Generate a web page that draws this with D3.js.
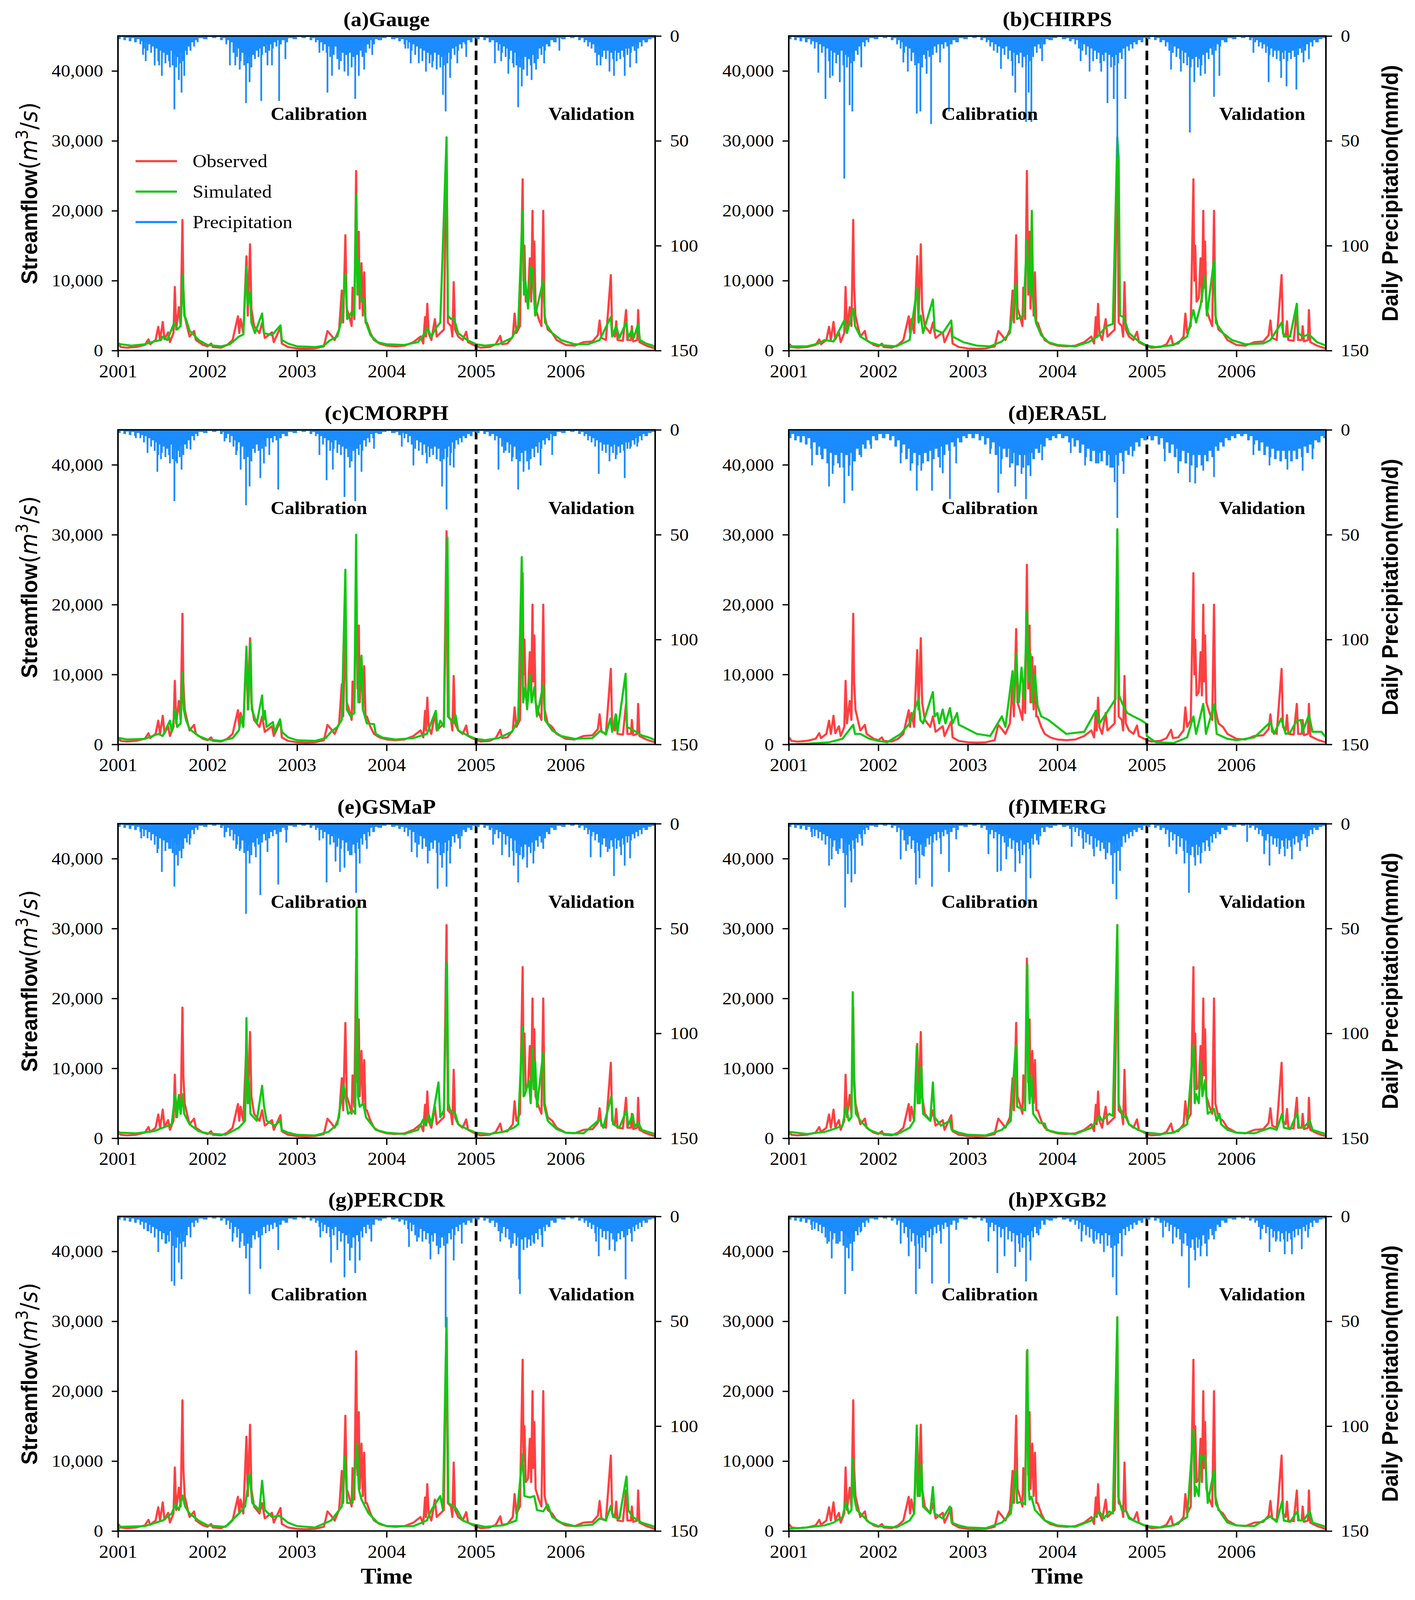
<!DOCTYPE html>
<html><head><meta charset="utf-8">
<script src="https://cdn.jsdelivr.net/npm/d3@7"></script>
<style>html,body{margin:0;padding:0;background:#fff;overflow:hidden;width:100%;height:100%}
#chart{display:block;width:100vw;height:100vh}</style>
</head><body>
<svg id="chart" viewBox="0 0 3622 4359" preserveAspectRatio="none"></svg>
<script>
// ---------------- DATA ----------------
const yearTicks = [2001, 2002, 2003, 2004, 2005, 2006];
const flowTicks = [0, 10000, 20000, 30000, 40000];
const precipTicks = [0, 50, 100, 150];
const panelTitles = ["(a)Gauge","(b)CHIRPS","(c)CMORPH","(d)ERA5L","(e)GSMaP","(f)IMERG","(g)PERCDR","(h)PXGB2"];
const legendLabels = ["Observed","Simulated","Precipitation"];
const periodLabels = [["Calibration",2003.244],["Validation",2006.289]];
const splitYear = 2005;

// Observed streamflow (m3/s) [decimal year, value]
const observed = [[2001.0,700],[2001.01,900],[2001.03,500],[2001.1,400],[2001.2,500],[2001.3,800],[2001.34,1600],[2001.36,900],[2001.42,1500],[2001.45,3400],[2001.47,1500],[2001.5,4100],[2001.52,1600],[2001.56,2600],[2001.58,1200],[2001.62,2500],[2001.635,9100],[2001.65,3000],[2001.68,6200],[2001.7,3500],[2001.72,18700],[2001.73,9000],[2001.745,5000],[2001.78,3000],[2001.8,2000],[2001.85,2800],[2001.87,1500],[2001.95,800],[2002.0,600],[2002.04,1000],[2002.06,500],[2002.15,400],[2002.22,800],[2002.28,1500],[2002.34,4900],[2002.355,2500],[2002.37,4500],[2002.4,2500],[2002.435,13500],[2002.45,5000],[2002.475,15200],[2002.49,6000],[2002.52,3500],[2002.58,2500],[2002.61,4000],[2002.64,1800],[2002.72,2600],[2002.74,1200],[2002.815,3300],[2002.83,1000],[2002.9,500],[2003.0,300],[2003.1,250],[2003.2,300],[2003.3,600],[2003.34,2800],[2003.38,2200],[2003.42,1500],[2003.47,3000],[2003.5,8600],[2003.515,4000],[2003.54,16500],[2003.555,6000],[2003.58,5000],[2003.61,3500],[2003.62,9000],[2003.64,4500],[2003.66,25700],[2003.675,8000],[2003.69,17000],[2003.7,6000],[2003.72,12500],[2003.735,5000],[2003.75,11200],[2003.765,4000],[2003.78,4000],[2003.82,2500],[2003.86,1500],[2003.92,1000],[2004.0,700],[2004.1,600],[2004.2,700],[2004.3,1200],[2004.38,2000],[2004.41,1000],[2004.43,4800],[2004.44,2000],[2004.455,6700],[2004.47,2500],[2004.5,1500],[2004.54,4500],[2004.56,2000],[2004.6,2500],[2004.64,3000],[2004.67,30500],[2004.685,4000],[2004.72,3500],[2004.735,2000],[2004.75,9800],[2004.765,3000],[2004.8,2000],[2004.85,1500],[2004.89,2700],[2004.91,1200],[2004.97,800],[2005.05,400],[2005.15,500],[2005.22,900],[2005.27,2100],[2005.29,900],[2005.35,1000],[2005.41,2000],[2005.43,5300],[2005.45,2500],[2005.49,3500],[2005.52,24500],[2005.53,10000],[2005.54,15000],[2005.555,7000],[2005.58,7500],[2005.6,13200],[2005.615,7000],[2005.63,20000],[2005.64,9000],[2005.65,15600],[2005.665,6000],[2005.7,4500],[2005.73,3500],[2005.75,20000],[2005.765,5000],[2005.8,3000],[2005.85,2500],[2005.9,1500],[2006.0,800],[2006.1,700],[2006.2,1200],[2006.3,1300],[2006.36,2200],[2006.38,4300],[2006.4,1800],[2006.45,1500],[2006.505,10800],[2006.52,2500],[2006.55,2000],[2006.565,4200],[2006.58,1500],[2006.64,1400],[2006.675,5800],[2006.69,1500],[2006.73,1500],[2006.74,3500],[2006.755,1300],[2006.8,1500],[2006.81,5800],[2006.825,1200],[2006.9,700],[2006.97,400],[2007.0,300]];

// Simulated streamflow per product
const simGauge = [[2001.0,600],[2001.01,1000],[2001.03,900],[2001.15,700],[2001.3,900],[2001.4,1300],[2001.48,1500],[2001.5,2000],[2001.55,1500],[2001.63,4000],[2001.66,3000],[2001.7,3500],[2001.725,10800],[2001.74,5000],[2001.76,4500],[2001.8,2800],[2001.85,2200],[2001.9,1500],[2002.0,800],[2002.15,600],[2002.25,900],[2002.35,2000],[2002.4,2300],[2002.435,12000],[2002.45,6500],[2002.475,8300],[2002.49,4000],[2002.53,2500],[2002.61,5300],[2002.63,2500],[2002.72,2200],[2002.815,3600],[2002.83,1500],[2002.9,1000],[2003.0,600],[2003.2,500],[2003.3,700],[2003.36,1400],[2003.45,2000],[2003.5,4500],[2003.54,11000],[2003.56,4500],[2003.61,5500],[2003.64,5000],[2003.66,22300],[2003.675,8000],[2003.69,13000],[2003.72,7000],[2003.74,7500],[2003.77,4000],[2003.82,2200],[2003.9,1200],[2004.0,900],[2004.2,800],[2004.35,1200],[2004.43,2500],[2004.455,3200],[2004.5,2000],[2004.55,3200],[2004.6,4000],[2004.67,30500],[2004.685,5000],[2004.72,4500],[2004.75,4700],[2004.8,2500],[2004.9,1500],[2005.0,900],[2005.1,700],[2005.25,900],[2005.4,1800],[2005.47,3500],[2005.52,20000],[2005.535,8000],[2005.55,10000],[2005.58,6000],[2005.61,12000],[2005.63,11500],[2005.66,5000],[2005.75,10000],[2005.77,4000],[2005.85,2500],[2005.95,1500],[2006.1,900],[2006.25,900],[2006.38,1500],[2006.505,4800],[2006.52,2000],[2006.565,3500],[2006.6,1800],[2006.675,4000],[2006.7,1800],[2006.74,3000],[2006.76,1800],[2006.81,3800],[2006.83,1500],[2006.9,1000],[2007.0,600]];
const simCHIRPS = [[2001.0,300],[2001.02,600],[2001.2,600],[2001.33,1000],[2001.4,1500],[2001.5,1300],[2001.62,4300],[2001.65,2500],[2001.72,6000],[2001.74,3500],[2001.8,2000],[2001.9,1200],[2002.0,800],[2002.2,600],[2002.35,1500],[2002.435,9000],[2002.45,4000],[2002.475,5000],[2002.5,2500],[2002.61,7300],[2002.63,3000],[2002.72,2500],[2002.815,4300],[2002.83,2000],[2002.95,1200],[2003.1,700],[2003.25,600],[2003.38,1300],[2003.47,2500],[2003.535,9500],[2003.55,4500],[2003.62,5000],[2003.66,15800],[2003.675,10000],[2003.7,8000],[2003.715,20000],[2003.73,7000],[2003.76,4000],[2003.82,2200],[2003.9,1200],[2004.0,800],[2004.2,600],[2004.35,1200],[2004.45,2000],[2004.55,3500],[2004.62,3800],[2004.67,30500],[2004.685,27500],[2004.7,5000],[2004.74,4800],[2004.8,2500],[2004.9,1400],[2005.0,700],[2005.1,500],[2005.3,800],[2005.45,2000],[2005.52,5800],[2005.55,4000],[2005.6,6500],[2005.65,10700],[2005.67,5000],[2005.75,12900],[2005.77,4000],[2005.85,2500],[2005.95,1500],[2006.1,900],[2006.3,1000],[2006.38,1500],[2006.505,4000],[2006.53,2000],[2006.6,2000],[2006.675,6700],[2006.69,2500],[2006.74,2000],[2006.81,2300],[2006.9,1200],[2007.0,700]];
const simCMORPH = [[2001.0,500],[2001.02,900],[2001.1,700],[2001.3,800],[2001.45,1500],[2001.5,1200],[2001.58,3400],[2001.6,1800],[2001.64,5000],[2001.66,2500],[2001.7,3000],[2001.72,10300],[2001.735,5000],[2001.76,3500],[2001.8,2200],[2001.9,1200],[2002.0,700],[2002.15,500],[2002.28,900],[2002.35,2000],[2002.38,4000],[2002.4,2500],[2002.435,14000],[2002.455,5000],[2002.48,14600],[2002.495,5000],[2002.55,3000],[2002.61,7000],[2002.625,3500],[2002.64,4800],[2002.66,2500],[2002.73,3200],[2002.75,1800],[2002.81,3600],[2002.83,1800],[2002.9,1000],[2003.0,600],[2003.2,500],[2003.32,900],[2003.38,1800],[2003.45,2500],[2003.5,3500],[2003.54,25000],[2003.555,5000],[2003.6,4000],[2003.64,4500],[2003.66,30000],[2003.67,14000],[2003.685,6000],[2003.72,12700],[2003.735,5000],[2003.78,3000],[2003.86,2900],[2003.88,1500],[2003.95,1000],[2004.1,700],[2004.3,900],[2004.45,1500],[2004.55,4800],[2004.57,2000],[2004.6,3400],[2004.64,2500],[2004.68,29600],[2004.695,4000],[2004.74,3000],[2004.77,4200],[2004.8,2000],[2004.9,1300],[2005.0,800],[2005.1,600],[2005.25,900],[2005.4,1800],[2005.47,3500],[2005.51,26800],[2005.525,6000],[2005.55,8200],[2005.57,5000],[2005.6,10000],[2005.62,6000],[2005.65,8200],[2005.68,4000],[2005.75,8500],[2005.77,3500],[2005.85,2000],[2005.95,1200],[2006.1,800],[2006.3,900],[2006.39,2000],[2006.45,1400],[2006.5,3700],[2006.52,1800],[2006.56,4300],[2006.58,1800],[2006.67,10100],[2006.685,2500],[2006.76,2000],[2006.85,1300],[2006.95,900],[2007.0,600]];
const simERA5L = [[2001.0,0],[2001.2,100],[2001.45,300],[2001.6,800],[2001.72,2800],[2001.74,1500],[2001.8,1500],[2001.9,800],[2002.0,500],[2002.1,300],[2002.25,1500],[2002.35,3000],[2002.45,6500],[2002.47,3500],[2002.5,3000],[2002.61,7500],[2002.63,4000],[2002.66,4500],[2002.68,3000],[2002.72,5000],[2002.75,3000],[2002.8,5200],[2002.83,3000],[2002.88,4500],[2002.9,2800],[2002.95,2500],[2003.1,1500],[2003.25,1200],[2003.38,4000],[2003.42,2500],[2003.5,10500],[2003.52,6000],[2003.54,13000],[2003.57,6000],[2003.6,11000],[2003.63,6500],[2003.66,19000],[2003.68,9000],[2003.7,13000],[2003.72,6000],[2003.75,10000],[2003.78,5500],[2003.82,4000],[2003.9,3500],[2004.0,2500],[2004.1,1500],[2004.3,1800],[2004.43,4800],[2004.47,3000],[2004.55,4500],[2004.6,5500],[2004.65,6500],[2004.67,30800],[2004.69,7000],[2004.72,6000],[2004.78,4500],[2004.85,4000],[2004.93,3500],[2004.99,3000],[2005.0,1200],[2005.1,300],[2005.3,200],[2005.45,1000],[2005.52,4000],[2005.55,1500],[2005.63,5800],[2005.66,1500],[2005.75,5700],[2005.78,1500],[2005.9,800],[2006.0,600],[2006.2,1000],[2006.38,3200],[2006.42,1500],[2006.5,3700],[2006.55,1500],[2006.6,1700],[2006.67,3300],[2006.72,3500],[2006.74,1800],[2006.81,4200],[2006.85,1800],[2006.95,1800],[2007.0,1000]];
const simGSMaP = [[2001.0,500],[2001.02,800],[2001.2,700],[2001.4,1000],[2001.5,1500],[2001.6,2000],[2001.64,6300],[2001.66,3000],[2001.68,6100],[2001.7,3500],[2001.72,6300],[2001.74,3500],[2001.8,2000],[2001.9,1000],[2002.0,700],[2002.2,500],[2002.35,1500],[2002.42,2500],[2002.435,17200],[2002.45,5000],[2002.46,8300],[2002.48,3500],[2002.55,2500],[2002.61,7500],[2002.63,4700],[2002.66,2500],[2002.75,1800],[2002.81,2500],[2002.83,1200],[2002.9,800],[2003.0,500],[2003.2,400],[2003.35,900],[2003.45,2000],[2003.52,7600],[2003.54,6000],[2003.57,3500],[2003.62,4000],[2003.65,3500],[2003.665,33000],[2003.68,6000],[2003.7,4500],[2003.74,5000],[2003.77,3000],[2003.8,2500],[2003.88,1200],[2004.0,800],[2004.2,600],[2004.35,1200],[2004.41,2700],[2004.44,1800],[2004.47,3400],[2004.5,2000],[2004.58,8000],[2004.6,3000],[2004.64,4000],[2004.675,25100],[2004.69,5000],[2004.71,4000],[2004.77,3400],[2004.8,2000],[2004.9,1300],[2005.0,800],[2005.15,600],[2005.3,900],[2005.42,1500],[2005.47,2000],[2005.52,16000],[2005.53,6000],[2005.54,6100],[2005.59,8200],[2005.61,5000],[2005.63,12800],[2005.645,7000],[2005.66,11000],[2005.68,4500],[2005.75,12300],[2005.76,4700],[2005.8,2500],[2005.9,1300],[2006.0,800],[2006.2,700],[2006.38,2700],[2006.42,1500],[2006.51,6000],[2006.53,2000],[2006.6,1500],[2006.68,4000],[2006.7,1800],[2006.75,3400],[2006.77,1600],[2006.81,2300],[2006.85,1200],[2006.95,800],[2007.0,600]];
const simIMERG = [[2001.0,500],[2001.02,900],[2001.2,600],[2001.4,900],[2001.5,1300],[2001.6,1800],[2001.64,4500],[2001.67,2500],[2001.7,3000],[2001.715,20900],[2001.73,7600],[2001.75,3500],[2001.8,2500],[2001.9,1200],[2002.0,700],[2002.2,500],[2002.35,1500],[2002.4,2500],[2002.43,13200],[2002.44,5000],[2002.45,7600],[2002.465,5000],[2002.48,10300],[2002.5,3500],[2002.58,2500],[2002.61,8000],[2002.63,3000],[2002.7,1800],[2002.8,2500],[2002.82,1200],[2002.9,800],[2003.0,500],[2003.2,400],[2003.38,1200],[2003.48,2500],[2003.535,13300],[2003.55,4500],[2003.6,4200],[2003.64,4000],[2003.665,24900],[2003.68,7600],[2003.69,5000],[2003.71,9000],[2003.73,3500],[2003.8,2200],[2003.86,2100],[2003.88,1200],[2004.0,800],[2004.2,600],[2004.38,1500],[2004.47,3200],[2004.5,2500],[2004.58,3500],[2004.62,3200],[2004.67,30500],[2004.685,5000],[2004.7,4300],[2004.74,3000],[2004.77,3200],[2004.8,2000],[2004.9,1200],[2005.0,800],[2005.15,600],[2005.3,800],[2005.45,2000],[2005.52,13300],[2005.535,5000],[2005.55,6300],[2005.58,5000],[2005.6,11000],[2005.62,6000],[2005.65,8300],[2005.68,3500],[2005.75,4200],[2005.78,2500],[2005.81,3500],[2005.83,2000],[2005.9,1200],[2006.0,800],[2006.2,700],[2006.38,1500],[2006.45,1200],[2006.51,3500],[2006.53,1500],[2006.6,1300],[2006.68,3600],[2006.7,1600],[2006.75,1500],[2006.82,2500],[2006.85,1200],[2006.95,800],[2007.0,600]];
const simPERCDR = [[2001.0,0],[2001.02,600],[2001.3,700],[2001.5,1500],[2001.6,2500],[2001.64,3800],[2001.68,3000],[2001.72,5100],[2001.75,3500],[2001.8,2500],[2001.9,1500],[2002.0,800],[2002.2,600],[2002.35,2500],[2002.42,3500],[2002.47,8200],[2002.5,4000],[2002.58,3000],[2002.61,7200],[2002.64,3000],[2002.72,2000],[2002.8,2200],[2002.9,1200],[2003.0,700],[2003.2,500],[2003.38,1500],[2003.5,3500],[2003.535,10700],[2003.56,4000],[2003.62,4000],[2003.67,12500],[2003.69,6000],[2003.72,4500],[2003.8,2500],[2003.9,1200],[2004.0,700],[2004.3,700],[2004.45,1500],[2004.5,3000],[2004.6,5000],[2004.63,3000],[2004.67,30500],[2004.69,4000],[2004.78,3200],[2004.85,1500],[2004.95,1000],[2005.1,600],[2005.3,800],[2005.45,1500],[2005.52,11000],[2005.54,5000],[2005.6,4800],[2005.65,5000],[2005.68,3000],[2005.75,2800],[2005.8,3800],[2005.85,2000],[2005.95,1200],[2006.1,700],[2006.3,900],[2006.38,1800],[2006.45,1500],[2006.505,3600],[2006.53,2000],[2006.6,1800],[2006.68,7800],[2006.7,3000],[2006.75,2000],[2006.85,1200],[2007.0,600]];
const simPXGB2 = [[2001.0,300],[2001.2,500],[2001.4,800],[2001.5,1200],[2001.6,2000],[2001.64,4200],[2001.67,2500],[2001.7,3000],[2001.715,10400],[2001.73,4900],[2001.76,3000],[2001.8,2500],[2001.9,1200],[2002.0,700],[2002.2,500],[2002.35,1500],[2002.4,2500],[2002.43,15100],[2002.44,5000],[2002.45,7700],[2002.465,5000],[2002.48,9500],[2002.5,3500],[2002.58,2500],[2002.61,6300],[2002.63,2500],[2002.72,1800],[2002.8,3500],[2002.82,1200],[2002.9,800],[2003.0,500],[2003.2,400],[2003.38,1200],[2003.48,2500],[2003.535,8800],[2003.55,4000],[2003.6,4200],[2003.64,3800],[2003.665,25900],[2003.68,6300],[2003.69,4500],[2003.71,4900],[2003.75,3000],[2003.86,1500],[2004.0,800],[2004.2,600],[2004.38,1500],[2004.47,2800],[2004.52,1800],[2004.58,2800],[2004.62,2500],[2004.67,30600],[2004.68,4900],[2004.72,3000],[2004.77,2800],[2004.8,1800],[2004.9,1200],[2005.0,700],[2005.15,500],[2005.3,800],[2005.45,2000],[2005.52,14500],[2005.535,5000],[2005.55,6300],[2005.58,5000],[2005.6,10800],[2005.62,10400],[2005.65,10800],[2005.68,4000],[2005.75,8700],[2005.77,3900],[2005.83,2500],[2005.9,1200],[2006.0,800],[2006.2,700],[2006.38,2100],[2006.45,1300],[2006.51,4200],[2006.53,1500],[2006.6,1300],[2006.68,2800],[2006.7,1500],[2006.75,1500],[2006.82,2800],[2006.85,1200],[2006.95,800],[2007.0,600]];

// Daily precipitation (mm/d): dense wet-season background and individual peak days
const precipBase = [[2001.0,1.5],[2001.03,0.5],[2001.06,2],[2001.09,0.8],[2001.12,2.5],[2001.15,1],[2001.18,3],[2001.21,1.5],[2001.24,4],[2001.26,2.5],[2001.28,6],[2001.3,3],[2001.32,7],[2001.34,4],[2001.36,8],[2001.38,5],[2001.4,10],[2001.42,6],[2001.44,12],[2001.46,7],[2001.48,11],[2001.5,8],[2001.52,13],[2001.54,9],[2001.56,12],[2001.58,7],[2001.6,14],[2001.62,9],[2001.64,15],[2001.66,10],[2001.68,13],[2001.7,8],[2001.72,12],[2001.74,7],[2001.76,9],[2001.78,5],[2001.8,7],[2001.82,3],[2001.84,5],[2001.86,2],[2001.88,3],[2001.9,1],[2001.95,1.5],[2002.0,0.5],[2002.05,1],[2002.1,0.5],[2002.14,2],[2002.17,1],[2002.2,4],[2002.22,2],[2002.24,6],[2002.26,3],[2002.28,8],[2002.3,5],[2002.32,10],[2002.34,6],[2002.36,12],[2002.38,8],[2002.4,14],[2002.42,9],[2002.44,13],[2002.46,10],[2002.48,15],[2002.5,9],[2002.52,11],[2002.54,7],[2002.56,10],[2002.58,6],[2002.6,9],[2002.62,5],[2002.64,8],[2002.66,4],[2002.68,7],[2002.7,4],[2002.72,6],[2002.74,3],[2002.76,5],[2002.78,2],[2002.8,4],[2002.83,2],[2002.86,3],[2002.9,1],[2002.95,1.5],[2003.0,0.5],[2003.05,1],[2003.1,0.5],[2003.14,2],[2003.17,1],[2003.2,3],[2003.22,2],[2003.24,5],[2003.26,3],[2003.28,7],[2003.3,4],[2003.32,8],[2003.34,5],[2003.36,10],[2003.38,6],[2003.4,9],[2003.42,5],[2003.44,11],[2003.46,7],[2003.48,12],[2003.5,8],[2003.52,14],[2003.54,9],[2003.56,13],[2003.58,8],[2003.6,15],[2003.62,10],[2003.64,14],[2003.66,9],[2003.68,12],[2003.7,7],[2003.72,10],[2003.74,5],[2003.76,8],[2003.78,4],[2003.8,6],[2003.82,2],[2003.84,4],[2003.87,1.5],[2003.9,2],[2003.95,1],[2004.0,0.5],[2004.05,1.5],[2004.1,1],[2004.13,2.5],[2004.16,1.5],[2004.19,4],[2004.21,2],[2004.23,6],[2004.25,3],[2004.27,7],[2004.29,4],[2004.31,9],[2004.33,5],[2004.35,10],[2004.37,6],[2004.39,12],[2004.41,7],[2004.43,11],[2004.45,8],[2004.47,13],[2004.49,9],[2004.51,12],[2004.53,8],[2004.55,14],[2004.57,9],[2004.59,15],[2004.61,10],[2004.63,14],[2004.65,9],[2004.67,13],[2004.69,8],[2004.71,11],[2004.73,6],[2004.75,9],[2004.77,5],[2004.79,7],[2004.81,4],[2004.83,6],[2004.85,3],[2004.87,4],[2004.9,2],[2004.93,3],[2004.96,1],[2005.0,1.5],[2005.04,0.5],[2005.08,2],[2005.11,1],[2005.14,3],[2005.17,2],[2005.2,5],[2005.22,3],[2005.24,7],[2005.26,4],[2005.28,8],[2005.3,5],[2005.32,10],[2005.34,6],[2005.36,11],[2005.38,7],[2005.4,13],[2005.42,8],[2005.44,14],[2005.46,10],[2005.48,15],[2005.5,11],[2005.52,16],[2005.54,10],[2005.56,15],[2005.58,11],[2005.6,14],[2005.62,9],[2005.64,13],[2005.66,8],[2005.68,11],[2005.7,6],[2005.72,9],[2005.74,5],[2005.76,7],[2005.78,4],[2005.8,5],[2005.83,2],[2005.86,3],[2005.9,1],[2005.95,1.5],[2006.0,0.5],[2006.05,1],[2006.1,0.5],[2006.14,2],[2006.17,1],[2006.2,3],[2006.22,2],[2006.24,5],[2006.26,3],[2006.28,6],[2006.3,4],[2006.32,8],[2006.34,5],[2006.36,9],[2006.38,6],[2006.4,10],[2006.42,7],[2006.44,11],[2006.46,7],[2006.48,12],[2006.5,8],[2006.52,11],[2006.54,7],[2006.56,12],[2006.58,8],[2006.6,11],[2006.62,7],[2006.64,10],[2006.66,6],[2006.68,9],[2006.7,6],[2006.72,8],[2006.74,5],[2006.76,7],[2006.78,4],[2006.8,6],[2006.82,3],[2006.84,5],[2006.86,2],[2006.88,3],[2006.92,1.5],[2006.96,1],[2007.0,0.5]];
const precipBaseERA5L = [[2001.0,4],[2001.03,2],[2001.06,5],[2001.09,3],[2001.12,6],[2001.15,3],[2001.18,7],[2001.21,4],[2001.24,9],[2001.27,6],[2001.3,12],[2001.33,8],[2001.36,14],[2001.39,9],[2001.42,16],[2001.45,11],[2001.48,17],[2001.51,12],[2001.54,16],[2001.57,11],[2001.6,18],[2001.63,12],[2001.66,17],[2001.69,11],[2001.72,15],[2001.75,9],[2001.78,12],[2001.81,7],[2001.84,9],[2001.87,5],[2001.9,7],[2001.93,3],[2001.96,5],[2002.0,2],[2002.04,4],[2002.08,2],[2002.12,5],[2002.15,3],[2002.18,8],[2002.21,5],[2002.24,11],[2002.27,7],[2002.3,14],[2002.33,9],[2002.36,16],[2002.39,11],[2002.42,17],[2002.45,12],[2002.48,16],[2002.51,11],[2002.54,15],[2002.57,10],[2002.6,14],[2002.63,9],[2002.66,13],[2002.69,8],[2002.72,12],[2002.75,7],[2002.78,10],[2002.81,6],[2002.84,8],[2002.87,4],[2002.9,6],[2002.94,3],[2002.97,4],[2003.0,2],[2003.04,4],[2003.08,2],[2003.12,5],[2003.15,3],[2003.18,7],[2003.21,4],[2003.24,9],[2003.27,6],[2003.3,12],[2003.33,8],[2003.36,14],[2003.39,9],[2003.42,13],[2003.45,9],[2003.48,16],[2003.51,11],[2003.54,17],[2003.57,12],[2003.6,18],[2003.63,12],[2003.66,17],[2003.69,11],[2003.72,14],[2003.75,9],[2003.78,11],[2003.81,7],[2003.84,8],[2003.87,4],[2003.9,5],[2003.94,3],[2003.97,4],[2004.0,2],[2004.04,4],[2004.08,3],[2004.12,6],[2004.15,4],[2004.18,8],[2004.21,5],[2004.24,11],[2004.27,7],[2004.3,13],[2004.33,9],[2004.36,15],[2004.39,10],[2004.42,16],[2004.45,11],[2004.48,15],[2004.51,10],[2004.54,17],[2004.57,12],[2004.6,18],[2004.63,12],[2004.66,17],[2004.69,11],[2004.72,15],[2004.75,10],[2004.78,12],[2004.81,8],[2004.84,10],[2004.87,6],[2004.9,8],[2004.93,4],[2004.96,5],[2005.0,3],[2005.04,5],[2005.08,3],[2005.12,7],[2005.15,4],[2005.18,9],[2005.21,6],[2005.24,11],[2005.27,7],[2005.3,13],[2005.33,9],[2005.36,15],[2005.39,10],[2005.42,16],[2005.45,11],[2005.48,17],[2005.51,12],[2005.54,18],[2005.57,12],[2005.6,17],[2005.63,12],[2005.66,15],[2005.69,10],[2005.72,13],[2005.75,8],[2005.78,10],[2005.81,6],[2005.84,8],[2005.87,4],[2005.9,5],[2005.94,3],[2005.97,4],[2006.0,2],[2006.04,3],[2006.08,2],[2006.12,5],[2006.15,3],[2006.18,7],[2006.21,5],[2006.24,10],[2006.27,6],[2006.3,12],[2006.33,8],[2006.36,13],[2006.39,9],[2006.42,14],[2006.45,10],[2006.48,15],[2006.51,10],[2006.54,14],[2006.57,10],[2006.6,15],[2006.63,10],[2006.66,14],[2006.69,9],[2006.72,13],[2006.75,8],[2006.78,11],[2006.81,7],[2006.84,9],[2006.87,5],[2006.9,6],[2006.94,3],[2006.97,4],[2007.0,3]];

const precipGauge = [[2001.28,9],[2001.31,12],[2001.41,14],[2001.46,14],[2001.49,19],[2001.58,15],[2001.63,35],[2001.68,21],[2001.71,27],[2001.74,19],[2001.81,6],[2002.25,14],[2002.31,14],[2002.36,16],[2002.43,32],[2002.47,22],[2002.6,31],[2002.67,14],[2002.72,14],[2002.8,31],[2002.87,11],[2003.25,8],[2003.34,27],[2003.39,19],[2003.47,16],[2003.53,17],[2003.57,19],[2003.65,30],[2003.69,19],[2003.75,16],[2003.84,9],[2004.21,6],[2004.27,13],[2004.36,13],[2004.44,17],[2004.51,15],[2004.56,16],[2004.63,28],[2004.66,36],[2004.71,20],[2004.79,13],[2004.89,10],[2005.21,13],[2005.28,12],[2005.36,18],[2005.42,15],[2005.47,34],[2005.51,24],[2005.57,19],[2005.62,21],[2005.67,16],[2005.76,13],[2005.93,7],[2006.35,14],[2006.39,14],[2006.49,17],[2006.54,19],[2006.66,19],[2006.72,15],[2006.79,13],[2006.89,3]];
const precipCHIRPS = [[2001.33,17.5],[2001.41,30],[2001.46,20],[2001.49,19],[2001.57,22],[2001.62,68],[2001.68,33],[2001.71,36],[2001.81,15],[2002.28,12.6],[2002.33,17],[2002.43,37],[2002.47,36],[2002.54,18],[2002.59,42],[2002.69,12.6],[2002.79,36],[2003.37,15.7],[2003.5,19],[2003.53,27],[2003.65,41],[2003.68,27],[2003.71,41],[2003.83,12],[2004.26,12],[2004.36,17],[2004.49,17],[2004.56,32],[2004.63,30],[2004.67,58],[2004.76,30],[2005.27,16],[2005.38,17],[2005.48,46],[2005.53,22],[2005.6,19],[2005.65,18],[2005.75,29],[2005.81,19],[2006.19,8],[2006.36,22],[2006.5,20],[2006.56,24],[2006.67,25.5],[2006.75,12.6],[2006.81,11]];
const precipCMORPH = [[2001.2,4],[2001.33,11],[2001.44,20],[2001.48,14],[2001.58,16],[2001.63,34],[2001.66,16],[2001.71,19],[2001.81,9.4],[2002.19,5.5],[2002.32,12],[2002.37,19],[2002.43,36],[2002.47,27],[2002.53,10],[2002.59,23],[2002.63,16],[2002.69,12],[2002.79,28.5],[2003.25,12],[2003.33,24],[2003.4,19],[2003.53,32],[2003.59,18],[2003.65,34],[2003.72,20],[2003.86,9],[2004.17,8],[2004.3,17],[2004.4,12],[2004.45,16],[2004.56,14],[2004.62,27],[2004.67,38],[2004.71,17],[2004.75,18],[2005.25,19],[2005.31,11],[2005.4,15],[2005.47,28.5],[2005.53,20],[2005.59,19],[2005.72,17],[2005.85,12],[2006.37,21],[2006.49,15],[2006.56,14],[2006.66,23],[2006.72,9],[2006.8,8]];
const precipERA5L = [[2001.26,17],[2001.36,12],[2001.45,27],[2001.49,21],[2001.57,18],[2001.62,35],[2001.67,22],[2001.71,29],[2001.81,13],[2001.92,9],[2002.25,16],[2002.36,19.5],[2002.43,29],[2002.48,19.5],[2002.6,29],[2002.69,18],[2002.72,20.7],[2002.8,33],[2002.87,16],[2003.25,11.5],[2003.34,30],[2003.37,21],[2003.47,18],[2003.53,27],[2003.6,21],[2003.65,33],[2003.7,22],[2003.83,14.5],[2004.15,11],[2004.31,17],[2004.46,16],[2004.59,18],[2004.64,25],[2004.67,42],[2004.74,21],[2004.84,12.7],[2005.2,15],[2005.35,20.7],[2005.48,25],[2005.54,25.6],[2005.63,19.5],[2005.75,22.5],[2006.19,12],[2006.37,17],[2006.57,19],[2006.74,19.5],[2006.85,14]];
const precipGSMaP = [[2001.26,7],[2001.44,14],[2001.49,23],[2001.59,12],[2001.63,30],[2001.67,20],[2001.71,16.5],[2001.8,10],[2002.19,6.5],[2002.32,12],[2002.36,13],[2002.43,43],[2002.47,19],[2002.54,16],[2002.59,34],[2002.67,13.5],[2002.79,29],[2002.88,9],[2003.25,8],[2003.33,28],[2003.43,18],[2003.48,23],[2003.53,21],[2003.59,15],[2003.66,33],[2003.7,19],[2003.78,12],[2004.28,13.5],[2004.34,16],[2004.46,19],[2004.57,31],[2004.62,21],[2004.67,30],[2004.71,19],[2004.82,12],[2005.19,10],[2005.29,15],[2005.37,16],[2005.42,20],[2005.47,28],[2005.52,17],[2005.57,21],[2005.64,19],[2005.75,12],[2006.28,16],[2006.39,16],[2006.47,13.5],[2006.54,25],[2006.62,15],[2006.66,20],[2006.72,16.5]];
const precipIMERG = [[2001.26,6.4],[2001.45,20],[2001.48,17],[2001.55,14.5],[2001.63,40],[2001.66,24],[2001.7,28],[2001.74,24],[2001.82,10.5],[2002.25,17],[2002.31,13],[2002.42,29],[2002.46,26],[2002.51,15.6],[2002.6,30],[2002.7,14.5],[2002.79,23],[2002.87,7.5],[2003.23,14.5],[2003.33,23],[2003.37,22.5],[2003.43,17],[2003.53,23],[2003.58,19],[2003.65,38.5],[2003.7,26],[2003.79,10],[2004.16,11],[2004.29,12],[2004.41,15.6],[2004.54,17],[2004.62,28.7],[2004.66,36],[2004.7,22.5],[2005.25,11],[2005.33,14.5],[2005.42,19],[2005.47,33],[2005.54,20],[2005.6,19],[2005.7,13],[2006.12,8.7],[2006.31,14.5],[2006.37,20],[2006.48,14.5],[2006.54,15.6],[2006.62,17],[2006.71,13],[2006.79,11]];
const precipPERCDR = [[2001.34,7],[2001.45,17],[2001.54,13],[2001.6,31],[2001.63,33],[2001.68,22],[2001.71,30],[2001.75,14.5],[2001.81,10],[2002.28,12],[2002.36,15],[2002.43,20],[2002.47,37],[2002.59,25],[2002.79,16],[2003.26,10],[2003.38,22],[2003.45,16],[2003.53,29],[2003.59,21],[2003.65,27],[2003.7,21],[2003.83,12],[2004.25,14.5],[2004.34,12],[2004.49,20.5],[2004.58,18],[2004.66,53],[2004.75,21],[2004.84,13],[2005.27,12],[2005.39,15],[2005.48,30],[2005.49,37],[2005.57,13],[2005.64,12.4],[2005.74,14.5],[2006.34,12],[2006.37,19],[2006.49,16],[2006.55,16.5],[2006.67,30],[2006.74,12]];
const precipPXGB2 = [[2001.26,6.4],[2001.43,13],[2001.48,20],[2001.55,13],[2001.63,37],[2001.67,20],[2001.71,26],[2001.8,7.6],[2002.25,13],[2002.34,19],[2002.42,37],[2002.46,25],[2002.53,17],[2002.6,32],[2002.7,13],[2002.79,32],[2002.87,6.4],[2003.23,12],[2003.33,27],[2003.41,19],[2003.53,24],[2003.58,17],[2003.65,31],[2003.7,21],[2003.79,9],[2004.27,12],[2004.41,13],[2004.52,17],[2004.62,29],[2004.66,37.5],[2004.72,19],[2005.18,10],[2005.29,13],[2005.39,19],[2005.47,34],[2005.54,21],[2005.6,19],[2005.67,19],[2005.75,11],[2006.27,11],[2006.37,17],[2006.44,12],[2006.54,18],[2006.62,18],[2006.73,15.6],[2006.8,10]];

const panels = [
  {title: panelTitles[0], sim: simGauge,  precip: precipGauge,  base: precipBase},
  {title: panelTitles[1], sim: simCHIRPS, precip: precipCHIRPS, base: precipBase},
  {title: panelTitles[2], sim: simCMORPH, precip: precipCMORPH, base: precipBase},
  {title: panelTitles[3], sim: simERA5L,  precip: precipERA5L,  base: precipBaseERA5L},
  {title: panelTitles[4], sim: simGSMaP,  precip: precipGSMaP,  base: precipBase},
  {title: panelTitles[5], sim: simIMERG,  precip: precipIMERG,  base: precipBase},
  {title: panelTitles[6], sim: simPERCDR, precip: precipPERCDR, base: precipBase},
  {title: panelTitles[7], sim: simPXGB2,  precip: precipPXGB2,  base: precipBase}
];

// ---------------- DRAW ----------------
const RED = "#ff4040", GREEN = "#11c811", BLUE = "#1a8cff";
const serif = "'Liberation Serif','Times New Roman',serif";
const sans = "'Liberation Sans',Arial,sans-serif";
const W = 1375, H = 857;
const colX = [302, 2019], rowY = [98, 1171, 2244, 3314];

const svg = d3.select("#chart");
svg.append("rect").attr("width", 3622).attr("height", 4359).attr("fill", "#fff");

const x = d3.scaleLinear().domain([2001, 2007]).range([0, W]);
const y = d3.scaleLinear().domain([0, 45000]).range([H, 0]);
const yp = d3.scaleLinear().domain([0, 150]).range([0, H]);

const flowLine = d3.line().x(d => x(d[0])).y(d => y(d[1]));
const baseArea = d3.area().x(d => x(d[0])).y0(0).y1(d => yp(d[1])).curve(d3.curveStepAfter);

function styleAxis(sel, size) {
  sel.select(".domain").remove();
  sel.selectAll(".tick line").attr("stroke", "#000").attr("stroke-width", 3.5);
  sel.selectAll(".tick text").attr("font-family", serif).attr("font-size", size).attr("fill", "#000");
}

panels.forEach((p, i) => {
  const col = i % 2, row = Math.floor(i / 2);
  const g = svg.append("g").attr("transform", `translate(${colX[col]},${rowY[row]})`);
  const cid = "clip" + i;
  g.append("clipPath").attr("id", cid).append("rect").attr("width", W).attr("height", H);
  const pg = g.append("g").attr("clip-path", `url(#${cid})`);

  pg.append("path").datum(observed).attr("d", flowLine).attr("fill", "none")
    .attr("stroke", RED).attr("stroke-width", 5.5).attr("stroke-linejoin", "round");
  pg.append("path").datum(p.sim).attr("d", flowLine).attr("fill", "none")
    .attr("stroke", GREEN).attr("stroke-width", 5.5).attr("stroke-linejoin", "round");

  pg.append("line").attr("x1", x(splitYear)).attr("x2", x(splitYear)).attr("y1", 0).attr("y2", H)
    .attr("stroke", "#000").attr("stroke-width", 7).attr("stroke-dasharray", "26,14");

  pg.append("path").datum(p.base).attr("d", baseArea).attr("fill", BLUE);
  pg.selectAll("line.spike").data(p.precip).join("line").attr("class", "spike")
    .attr("x1", d => x(d[0])).attr("x2", d => x(d[0]))
    .attr("y1", 0).attr("y2", d => yp(d[1]))
    .attr("stroke", BLUE).attr("stroke-width", 4.5);

  const ax = g.append("g").call(d3.axisLeft(y).tickValues(flowTicks).tickFormat(d3.format(","))
    .tickSize(16).tickSizeOuter(0).tickPadding(22));
  styleAxis(ax, 48);
  const axr = g.append("g").attr("transform", `translate(${W},0)`)
    .call(d3.axisRight(yp).tickValues(precipTicks).tickSize(16).tickSizeOuter(0).tickPadding(22));
  styleAxis(axr, 48);
  const axb = g.append("g").attr("transform", `translate(0,${H})`)
    .call(d3.axisBottom(x).tickValues(yearTicks).tickFormat(d3.format("d")).tickSize(18).tickSizeOuter(0).tickPadding(20));
  styleAxis(axb, 49);

  g.append("rect").attr("width", W).attr("height", H).attr("fill", "none")
    .attr("stroke", "#000").attr("stroke-width", 4);

  g.append("text").attr("x", W / 2).attr("y", -27).attr("text-anchor", "middle")
    .attr("font-family", serif).attr("font-weight", "bold").attr("font-size", 56).text(p.title);

  periodLabels.forEach(([lab, t]) => {
    g.append("text").attr("x", x(t)).attr("y", 229).attr("text-anchor", "middle")
      .attr("font-family", serif).attr("font-weight", "bold").attr("font-size", 50).text(lab);
  });

  if (col === 0) {
    const t = g.append("text").attr("transform", `translate(-207,${H / 2}) rotate(-90)`)
      .attr("text-anchor", "middle").attr("font-size", 58);
    t.append("tspan").attr("font-family", sans).attr("font-weight", "bold").text("Streamflow");
    t.append("tspan").attr("font-family", "'DejaVu Sans'").attr("font-size", 60).text("(");
    t.append("tspan").attr("font-family", "'DejaVu Sans'").attr("font-style", "italic").attr("font-size", 60).text("m");
    t.append("tspan").attr("font-family", "'DejaVu Sans'").attr("font-size", 42).attr("dy", -24).text("3");
    t.append("tspan").attr("font-family", "'DejaVu Sans'").attr("font-size", 60).attr("dy", 24).text("/");
    t.append("tspan").attr("font-family", "'DejaVu Sans'").attr("font-style", "italic").attr("font-size", 60).text("s");
    t.append("tspan").attr("font-family", "'DejaVu Sans'").attr("font-size", 60).text(")");
  } else {
    g.append("text").attr("transform", `translate(${W + 184},${H / 2}) rotate(-90)`)
      .attr("text-anchor", "middle").attr("font-family", sans).attr("font-weight", "bold")
      .attr("font-size", 58).text("Daily Precipitation(mm/d)");
  }

  if (row === 3) {
    g.append("text").attr("x", W / 2).attr("y", 1000).attr("text-anchor", "middle")
      .attr("font-family", serif).attr("font-weight", "bold").attr("font-size", 60).text("Time");
  }

  if (i === 0) {
    const cols = [RED, GREEN, BLUE];
    legendLabels.forEach((lab, k) => {
      const ly = 341 + k * 83;
      g.append("line").attr("x1", 45).attr("x2", 151).attr("y1", ly).attr("y2", ly)
        .attr("stroke", cols[k]).attr("stroke-width", 6);
      g.append("text").attr("x", 191).attr("y", ly + 17).attr("font-family", serif)
        .attr("font-size", 50).text(lab);
    });
  }
});
</script>
</body></html>
